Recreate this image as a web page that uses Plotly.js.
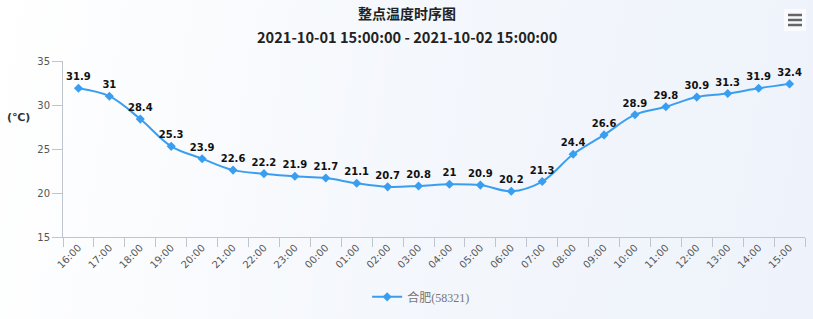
<!DOCTYPE html>
<html>
<head>
<meta charset="utf-8">
<script src="https://cdn.plot.ly/plotly-3.0.1.min.js"></script>
<style>
html,body{margin:0;padding:0;}
body{width:813px;height:319px;background:linear-gradient(100deg,#ffffff 0%,#f4f7fc 50%,#eef3fb 100%);overflow:hidden;}
#chart{width:813px;height:319px;}
</style>
</head>
<body>
<div id="chart"></div>
<script>
const hours = ["16:00","17:00","18:00","19:00","20:00","21:00","22:00","23:00","00:00","01:00","02:00","03:00","04:00","05:00","06:00","07:00","08:00","09:00","10:00","11:00","12:00","13:00","14:00","15:00"];
const temps = [31.9,31,28.4,25.3,23.9,22.6,22.2,21.9,21.7,21.1,20.7,20.8,21,20.9,20.2,21.3,24.4,26.6,28.9,29.8,30.9,31.3,31.9,32.4];
const seriesName = "合肥(58321)";
const chartTitle = "整点温度时序图";
const chartSubtitle = "2021-10-01 15:00:00 - 2021-10-02 15:00:00";
const yUnit = "(℃)";
const yTicks = [15,20,25,30,35];

const lineColor = "#3a9ef0";
const trace = {
  x: hours,
  y: temps,
  type: "scatter",
  mode: "lines+markers+text",
  name: seriesName,
  line: {color: lineColor, width: 2, shape: "spline", smoothing: 1},
  marker: {symbol: "diamond", size: 7, color: lineColor},
  text: temps.map(v => "<b>" + v + "</b>"),
  textposition: "top center",
  textfont: {family: "DejaVu Sans, Verdana, sans-serif", size: 10, color: "#111"},
  cliponaxis: false,
  hoverinfo: "x+y"
};

const layout = {
  width: 813, height: 319,
  margin: {l: 63, r: 8, t: 61, b: 82},
  paper_bgcolor: "rgba(0,0,0,0)",
  plot_bgcolor: "rgba(0,0,0,0)",
  showlegend: true,
  legend: {
    orientation: "h", x: 0.482, xanchor: "center", y: -0.34, yanchor: "middle",
    font: {family: "Liberation Serif, Noto Sans CJK SC, serif", size: 12, color: "#777"},
    bgcolor: "rgba(0,0,0,0)", itemwidth: 30
  },
  xaxis: {
    type: "category",
    range: [-0.5, 23.5],
    tickson: "boundaries",
    ticks: "outside", ticklen: 9, tickcolor: "#c0c4cc", tickwidth: 1,
    showline: true, linecolor: "#c0c4cc", linewidth: 1,
    showgrid: false, zeroline: false,
    tickangle: -45,
    tickfont: {family: "DejaVu Sans, Verdana, sans-serif", size: 10, color: "#555"},
    fixedrange: true
  },
  yaxis: {
    range: [15, 35],
    tickvals: yTicks,
    ticks: "outside", ticklen: 10, tickcolor: "#c0c4cc", tickwidth: 1,
    showline: true, linecolor: "#c0c4cc", linewidth: 1,
    showgrid: false, zeroline: false,
    tickfont: {family: "DejaVu Sans, Verdana, sans-serif", size: 10, color: "#555"},
    fixedrange: true
  },
  annotations: [
    {text: "<b>" + chartTitle + "</b>", xref: "paper", yref: "paper", x: 0.464, y: (237 - 13) / 176,
     xanchor: "center", yanchor: "middle", showarrow: false,
     font: {family: "Noto Sans CJK SC, sans-serif", size: 14, color: "#222"}},
    {text: "<b>" + chartSubtitle + "</b>", xref: "paper", yref: "paper", x: 0.464, y: (237 - 37) / 176,
     xanchor: "center", yanchor: "middle", showarrow: false,
     font: {family: "Noto Sans CJK SC, sans-serif", size: 14.6, color: "#222"}},
    {text: "<b>" + yUnit + "</b>", xref: "paper", yref: "paper", x: (18 - 63) / 742, y: (237 - 117) / 176,
     xanchor: "center", yanchor: "middle", showarrow: false,
     font: {family: "DejaVu Sans, sans-serif", size: 11, color: "#333"}}
  ],
  shapes: [
    {type: "rect", xref: "paper", yref: "paper", x0: (784 - 63) / 742, x1: (806 - 63) / 742,
     y0: (237 - 31) / 176, y1: (237 - 9) / 176, fillcolor: "rgba(255,255,255,0.6)", line: {width: 0}},
    {type: "line", xref: "paper", yref: "paper", x0: (788 - 63) / 742, x1: (802 - 63) / 742,
     y0: (237 - 15) / 176, y1: (237 - 15) / 176, line: {color: "#666", width: 2.5}},
    {type: "line", xref: "paper", yref: "paper", x0: (788 - 63) / 742, x1: (802 - 63) / 742,
     y0: (237 - 20) / 176, y1: (237 - 20) / 176, line: {color: "#666", width: 2.5}},
    {type: "line", xref: "paper", yref: "paper", x0: (788 - 63) / 742, x1: (802 - 63) / 742,
     y0: (237 - 25) / 176, y1: (237 - 25) / 176, line: {color: "#666", width: 2.5}}
  ]
};

Plotly.newPlot("chart", [trace], layout, {displayModeBar: false});
</script>
</body>
</html>
